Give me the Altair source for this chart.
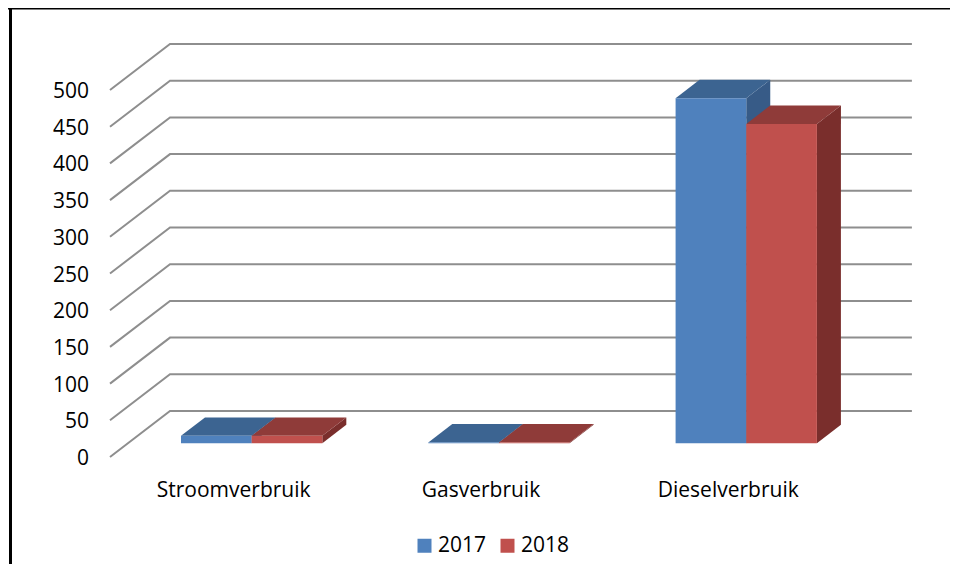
import altair as alt
import pandas as pd

# ---- data ----
categories = ["Stroomverbruik", "Gasverbruik", "Dieselverbruik"]
years = ["2017", "2018"]
values_2017 = [10, 1, 470]
values_2018 = [10, 1, 435]
y_ticks = [0, 50, 100, 150, 200, 250, 300, 350, 400, 450, 500]

# ---- styles ----
front_colors = ["#4f81bd", "#c0504d"]
top_colors = ["#3c6491", "#8f3b39"]
side_colors = ["#375b87", "#7a2e2c"]
grid_color = "#8e8e8e"
FONT = "Open Sans"
FS = 21

# ---- layout (oblique 3D projection) ----
W, H = 942, 556
PX_U = 247.3          # px per category slot
PX_V = 0.734          # px per value unit
X0 = 102              # px of front-left floor corner
Y0 = 449              # px of value 0 at the front
DX = 60 / PX_U        # depth shift in category units
DY = 46 / PX_V        # depth shift in value units
D_FRONT, D_BACK = 0.3, 0.7
GAP = 1.5
N = len(categories)

xscale = alt.Scale(domain=[-X0 / PX_U, (W - X0) / PX_U], nice=False, zero=False)
yscale = alt.Scale(domain=[(Y0 - H) / PX_V, Y0 / PX_V], nice=False, zero=False)

# gridlines: side wall diagonal + back wall horizontal
grid_rows = []
for v in y_ticks:
    pts = [(0, v), (DX, v + DY), (N + DX, v + DY)]
    for k, (u, vv) in enumerate(pts):
        grid_rows.append(dict(g=v, k=k, x=u, y=vv))
grid_df = pd.DataFrame(grid_rows)

w = 1 / (2 + GAP)
front_rows, top_rows, side_rows = [], [], []
for i, c in enumerate(categories):
    for j, (yr, vals) in enumerate(zip(years, [values_2017, values_2018])):
        ul = i + GAP * w / 2 + j * w
        ur = ul + w
        v = vals[i]
        bid = f"{c}-{yr}"
        front_rows.append(dict(bar=bid, year=yr, x=ul + D_FRONT * DX, x2=ur + D_FRONT * DX,
                               y=D_FRONT * DY, y2=v + D_FRONT * DY))
        for d in (D_FRONT, D_BACK):
            top_rows.append(dict(bar=bid, year=yr, y=v + d * DY, x=ul + d * DX, x2=ur + d * DX))
            side_rows.append(dict(bar=bid, year=yr, x=ur + d * DX, y=d * DY, y2=v + d * DY))

front_df = pd.DataFrame(front_rows)
top_df = pd.DataFrame(top_rows)
side_df = pd.DataFrame(side_rows)

label_df = pd.DataFrame(dict(label=categories, x=[i + 0.5 for i in range(N)],
                             y=[(Y0 - 489) / PX_V] * N))
tick_df = pd.DataFrame(dict(v=y_ticks, x=[-21 / PX_U] * len(y_ticks),
                            label=[str(t) for t in y_ticks]))

grid = alt.Chart(grid_df).mark_line(color=grid_color, strokeWidth=2).encode(
    x=alt.X("x:Q", scale=xscale, axis=None),
    y=alt.Y("y:Q", scale=yscale, axis=None),
    detail="g:N",
    order="k:Q",
)

ticks = alt.Chart(tick_df).mark_text(font=FONT, fontSize=FS, color="#000000",
                                     align="right", baseline="middle", dy=2).encode(
    x=alt.X("x:Q", scale=xscale, axis=None),
    y=alt.Y("v:Q", scale=yscale, axis=None),
    text="label:N",
)

side = alt.Chart(side_df).mark_area(orient="vertical").encode(
    x=alt.X("x:Q", scale=xscale, axis=None),
    y=alt.Y("y:Q", scale=yscale, axis=None, stack=False),
    y2="y2:Q",
    detail="bar:N",
    color=alt.Color("year:N", scale=alt.Scale(domain=years, range=side_colors), legend=None),
)

top = alt.Chart(top_df).mark_area(orient="horizontal").encode(
    y=alt.Y("y:Q", scale=yscale, axis=None),
    x=alt.X("x:Q", scale=xscale, axis=None, stack=False),
    x2="x2:Q",
    detail="bar:N",
    color=alt.Color("year:N", scale=alt.Scale(domain=years, range=top_colors), legend=None),
)

front = alt.Chart(front_df).mark_rect().encode(
    x=alt.X("x:Q", scale=xscale, axis=None),
    x2="x2:Q",
    y=alt.Y("y:Q", scale=yscale, axis=None),
    y2="y2:Q",
    color=alt.Color("year:N", scale=alt.Scale(domain=years, range=front_colors),
                    legend=alt.Legend(orient="none", legendX=406, legendY=527,
                                      direction="horizontal", title=None,
                                      symbolType="square", symbolSize=196,
                                      symbolStrokeWidth=0, labelFont=FONT,
                                      labelFontSize=FS, labelColor="#000000",
                                      labelOffset=3, columnPadding=10, padding=0)),
)

labels = alt.Chart(label_df).mark_text(font=FONT, fontSize=FS, color="#000000",
                                       align="center", baseline="alphabetic").encode(
    x=alt.X("x:Q", scale=xscale, axis=None),
    y=alt.Y("y:Q", scale=yscale, axis=None),
    text="label:N",
)

border_top = alt.Chart().mark_rule(color="#000000", strokeWidth=2).encode(
    x=alt.value(0), x2=alt.value(W), y=alt.value(0.5))
border_left = alt.Chart().mark_rule(color="#000000", strokeWidth=3).encode(
    x=alt.value(2.5), y=alt.value(0), y2=alt.value(H))

chart = alt.layer(grid, ticks, side, top, front, labels, border_top, border_left).resolve_scale(
    color="independent"
).properties(
    width=W, height=H, padding=0, autosize=alt.AutoSizeParams(type="none")
).configure_view(strokeWidth=0)

chart.save("out.html", embed_options={"renderer": "svg", "actions": False})
